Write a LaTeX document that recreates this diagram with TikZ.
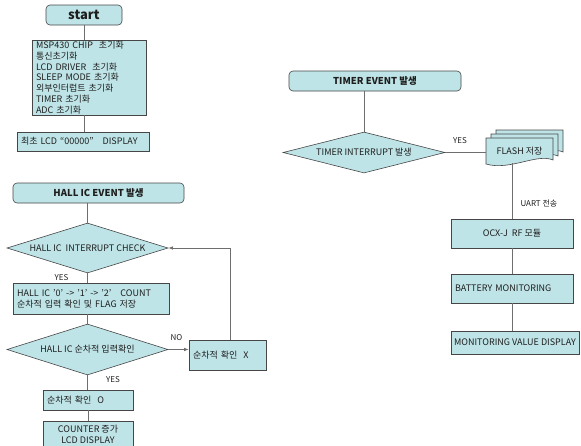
\documentclass[tikz,border=0pt]{standalone}
\usepackage{fontspec}
\setmainfont{Noto Sans CJK KR}
\usetikzlibrary{shapes.geometric,arrows.meta}
\definecolor{fillc}{RGB}{191,228,231}
\definecolor{bord}{RGB}{70,70,70}
\definecolor{connc}{RGB}{110,110,110}
\definecolor{txt}{RGB}{30,30,30}
\begin{document}
\begin{tikzpicture}[x=1pt,y=-1pt,
  every node/.style={text=txt, font=\fontsize{9}{10.8}\selectfont},
  box/.style={draw=bord, fill=fillc, line width=0.6pt, rectangle, inner sep=0pt},
  rbox/.style={box, rounded corners=4pt, font=\bfseries\fontsize{9.5}{10}\selectfont},
  dia/.style={draw=bord, fill=fillc, line width=0.6pt, diamond, inner sep=0pt},
  conn/.style={draw=connc, line width=0.7pt},
  arr/.style={conn, -{Latex[length=4.5pt,width=3.5pt]}},
  lbl/.style={font=\fontsize{8}{9}\selectfont},
  sheet/.style={draw=bord, fill=fillc, line width=0.6pt}
]
\useasboundingbox (0,0) rectangle (581,445);

% ---- left top: start ----
\node[rbox, minimum width=76, minimum height=20, font=\bfseries\fontsize{13}{14}\selectfont] (start) at (84,15) {start};
\node[box, minimum width=114, minimum height=75, text width=106, align=left] (init) at (89,77.5)
  {MSP430 CHIP\ \ 초기화\\통신초기화\\LCD DRIVER\ \ 초기화\\SLEEP MODE\ 초기화\\외부인터럽트 초기화\\TIMER 초기화\\ADC 초기화};
\node[box, minimum width=132, minimum height=19, text width=124, align=left] (disp) at (83,141.5)
  {최초 LCD “00000”\ \ \ DISPLAY};
\draw[conn] (start.south) -- (start.south |- init.north);
\draw[conn] (start.south |- init.south) -- (start.south |- disp.north);

% ---- left: HALL IC ----
\node[rbox, minimum width=171, minimum height=20] (hev) at (98.5,193) {HALL IC EVENT 발생};
\node[dia, aspect=3.22, minimum width=161, minimum height=50] (dia1) at (87.5,248) {HALL IC\ \ INTERRUPT CHECK};
\node[box, minimum width=156, minimum height=31, text width=148, align=left] (cnt) at (91,298.5)
  {HALL IC\ ’0’ -> ’1’ -> ’2’\ \ \ COUNT\\순차적 입력 확인 및 FLAG 저장};
\node[dia, aspect=3.16, minimum width=161, minimum height=51] (dia2) at (87.5,349.5) {HALL IC\ 순차적 입력확인};
\node[box, minimum width=77, minimum height=30, text width=69, align=left] (xbox) at (227.5,355) {순차적 확인\ \ X};
\node[box, minimum width=90, minimum height=20, text width=82, align=left] (obox) at (88,400) {순차적 확인\ \ O};
\node[box, minimum width=90, minimum height=27, align=center, font=\fontsize{9}{11.5}\selectfont] (cntr) at (88,434.5) {COUNTER 증가\\LCD DISPLAY};

\draw[conn] (dia1.north) -- (dia1.north |- hev.south);
\draw[conn] (dia1.south) -- (dia1.south |- cnt.north);
\draw[conn] (dia2.north) -- (dia2.north |- cnt.south);
\draw[arr] (dia2.east) -- (dia2.east -| xbox.west);
\draw[arr] ([xshift=2.5pt]xbox.north) |- (dia1.east);
\draw[conn] (dia2.south) -- (dia2.south |- obox.north);
\draw[conn] (obox.south) -- (obox.south |- cntr.north);

\node[lbl] (yes1) at (61.5,278) {YES};
\node[lbl] (no1) at (176.5,338) {NO};
\node[lbl] (yes2) at (113,380) {YES};

% ---- right: TIMER ----
\node[rbox, minimum width=172, minimum height=20] (tev) at (375,81) {TIMER EVENT 발생};
\node[dia, aspect=3.95, minimum width=162, minimum height=41] (tdia) at (364,152.5) {TIMER INTERRUPT 발생};

\foreach \dx/\dy in {10/-8, 5/-4, 0/0}{
  \draw[sheet, shift={(\dx,\dy)}] (486,138) -- (553,138) -- (553,160)
     .. controls (537,153) and (510,171) .. (486,164) -- cycle;
}
\node[minimum width=67, minimum height=22, inner sep=0pt] (flash) at (519.5,151) {FLASH 저장};

\node[box, minimum width=122, minimum height=29] (ocx) at (512,233.5) {OCX-J\ \ RF 모듈};
\node[box, minimum width=122, minimum height=29, text width=114, align=left] (bat) at (512,288.5) {BATTERY MONITORING};
\node[box, minimum width=128, minimum height=23] (mvd) at (515,342.5) {MONITORING\ VALUE\ DISPLAY};

\draw[conn] (tdia.north) -- (tdia.north |- tev.south);
\draw[conn] (tdia.east) -- (tdia.east -| flash.west);
\draw[conn] (ocx.north) -- ([yshift=-1pt]ocx.north |- flash.south);
\draw[conn] (ocx.south) -- (ocx.south |- bat.north);
\draw[conn] (bat.south) -- (bat.south |- mvd.north);

\node[lbl] (yes3) at (460,141) {YES};
\node[lbl, anchor=west] (uart) at (517,203) {UART 전송};
\end{tikzpicture}
\end{document}
